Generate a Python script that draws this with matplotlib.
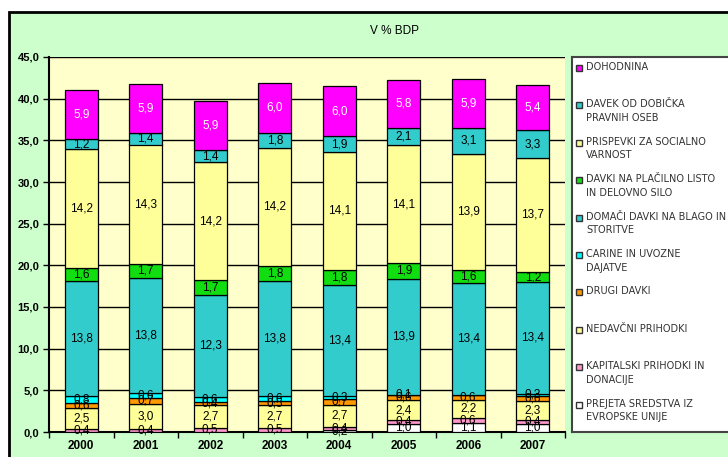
import numpy as np
import matplotlib.pyplot as plt
from matplotlib.patches import Rectangle

plt.rcParams['font.family'] = ['Liberation Sans', 'DejaVu Sans']

years = ['2000', '2001', '2002', '2003', '2004', '2005', '2006', '2007']

# stacked from the bottom up
eu_sredstva = [0.0, 0.0, 0.0, 0.0, 0.2, 1.0, 1.1, 1.0]
kapitalski = [0.4, 0.4, 0.5, 0.5, 0.4, 0.4, 0.6, 0.4]
nedavcni = [2.5, 3.0, 2.7, 2.7, 2.7, 2.4, 2.2, 2.3]
drugi_davki = [0.6, 0.7, 0.4, 0.5, 0.7, 0.6, 0.6, 0.6]
carine = [0.8, 0.6, 0.6, 0.6, 0.3, 0.1, 0.0, 0.3]
domaci = [13.8, 13.8, 12.3, 13.8, 13.4, 13.9, 13.4, 13.4]
placilna_lista = [1.6, 1.7, 1.7, 1.8, 1.8, 1.9, 1.6, 1.2]
prispevki = [14.2, 14.3, 14.2, 14.2, 14.1, 14.1, 13.9, 13.7]
dobicek = [1.2, 1.4, 1.4, 1.8, 1.9, 2.1, 3.1, 3.3]
dohodnina = [5.9, 5.9, 5.9, 6.0, 6.0, 5.8, 5.9, 5.4]

series = [
    (eu_sredstva, '#FFFFFF', 'PREJETA SREDSTVA IZ\nEVROPSKE UNIJE'),
    (kapitalski, '#FF99CC', 'KAPITALSKI PRIHODKI IN\nDONACIJE'),
    (nedavcni, '#FFFF99', 'NEDAVČNI PRIHODKI'),
    (drugi_davki, '#FF9900', 'DRUGI DAVKI'),
    (carine, '#00FFFF', 'CARINE IN UVOZNE\nDAJATVE'),
    (domaci, '#33CCCC', 'DOMAČI DAVKI NA BLAGO IN\nSTORITVE'),
    (placilna_lista, '#11DD11', 'DAVKI NA PLAČILNO LISTO\nIN DELOVNO SILO'),
    (prispevki, '#FFFF99', 'PRISPEVKI ZA SOCIALNO\nVARNOST'),
    (dobicek, '#33CCCC', 'DAVEK OD DOBIČKA\nPRAVNIH OSEB'),
    (dohodnina, '#FF00FF', 'DOHODNINA'),
]

W, H = 728, 457
fig = plt.figure(figsize=(W / 100, H / 100), dpi=100)
fig.patch.set_facecolor('white')

# green chart area with black border, running off the right and bottom edge
bg = fig.add_axes([0, 0, 1, 1], zorder=-5)
bg.set_xlim(0, W)
bg.set_ylim(H, 0)
bg.axis('off')
bg.add_patch(Rectangle((9, 12), W, H, facecolor='#CCFFCC',
                       edgecolor='black', linewidth=2))
bg.text(395, 31, 'V % BDP', ha='center', va='center', fontsize=8.5)

ax = fig.add_axes([49 / W, (H - 432) / H, 516 / W, 375 / H])
ax.set_facecolor('#FFFFCC')
x = np.arange(len(years))
bottom = np.zeros(len(years))
for vals, color, name in series:
    vals = np.array(vals)
    ax.bar(x, vals, 0.51, bottom=bottom, color=color, edgecolor='black',
           linewidth=0.9, zorder=3)
    txt_color = 'white' if color == '#FF00FF' else 'black'
    for xi, b, v in zip(x, bottom, vals):
        if v > 0:
            ax.text(xi, b + v / 2, f'{v:.1f}'.replace('.', ','), ha='center',
                    va='center', fontsize=8.5, color=txt_color, zorder=4)
    bottom += vals

ax.set_xlim(-0.5, len(years) - 0.5)
ax.set_ylim(0, 45)
ax.set_yticks(np.arange(0, 46, 5))
ax.set_yticklabels([f'{v:.1f}'.replace('.', ',') for v in np.arange(0, 46, 5)],
                   fontsize=8, fontweight='bold')
ax.set_xticks(x)
ax.set_xticklabels(years, fontsize=8.5, fontweight='bold')
ax.set_xticks(np.arange(-0.5, len(years), 1), minor=True)
ax.tick_params(axis='x', which='major', length=0, pad=6)
ax.tick_params(axis='x', which='minor', length=4, width=1)
ax.tick_params(axis='y', length=4, width=1, pad=3)
ax.yaxis.grid(True, color='black', linewidth=1, zorder=1)
ax.set_axisbelow(True)
for s in ['top', 'right']:
    ax.spines[s].set_visible(False)
for s in ['left', 'bottom']:
    ax.spines[s].set_linewidth(1.5)

# legend box, cut off at the right edge
lax = fig.add_axes([572 / W, (H - 432) / H, 0.3, 375 / H])
lax.set_xlim(0, 1)
lax.set_ylim(0, 1)
lax.set_xticks([])
lax.set_yticks([])
lax.set_facecolor('white')
for s in lax.spines.values():
    s.set_edgecolor('#444444')
    s.set_linewidth(1.5)
px = 1 / (0.3 * W)
py = 1 / 375
for i, (vals, color, name) in enumerate(series[::-1]):
    y0 = 1 - (11 + i * 37.4) * py
    lax.add_patch(Rectangle((4 * px, y0 - 3 * py), 6 * px, 6 * py,
                            facecolor=color, edgecolor='#333333', linewidth=1))
    lax.text(14 * px, y0 + 6 * py, name, ha='left', va='top', fontsize=7,
             family='DejaVu Sans', color='#333333', linespacing=1.45)

fig.savefig('out.png', dpi=100, facecolor=fig.get_facecolor())
